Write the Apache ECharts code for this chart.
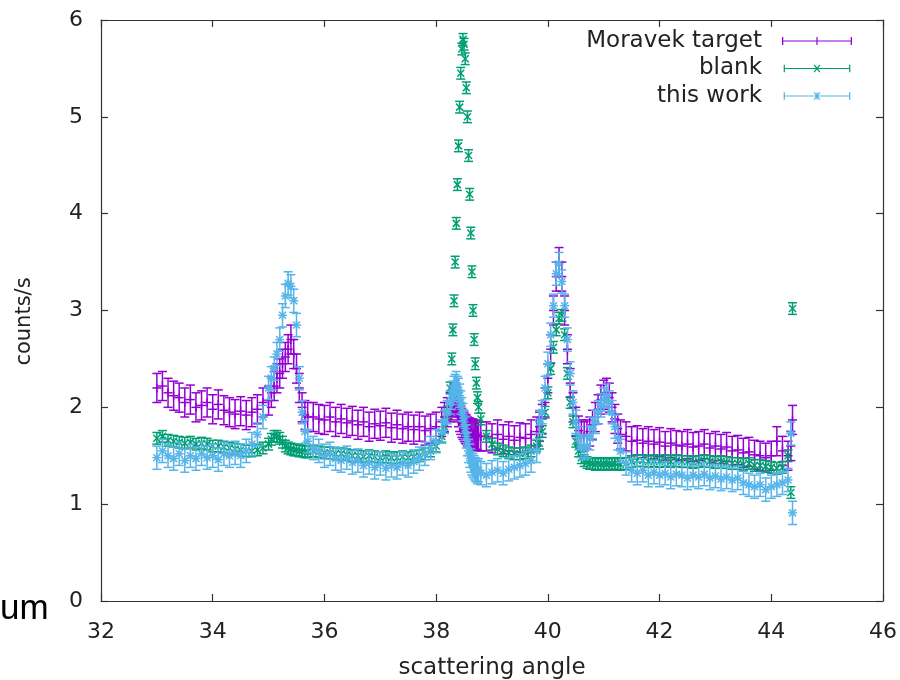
<!DOCTYPE html>
<html>
<head>
<meta charset="utf-8">
<script src="https://cdn.jsdelivr.net/npm/echarts@6/dist/echarts.min.js"></script>
<style>
    html, body { margin: 0; padding: 0; background: #fff; }
    #chart { width: 900px; height: 680px; }
</style>
</head>
<body>
<div id="chart"></div>
<script>
// scattering angle of every measured point (shared by the three runs)
var angles = [
    33.0, 33.1, 33.2, 33.3, 33.4, 33.5, 33.6, 33.7, 33.8, 33.9, 34.0, 34.1, 34.2, 34.3, 34.4, 34.5, 34.6, 34.7, 34.8, 34.9,
    35.0, 35.05, 35.1, 35.15, 35.2, 35.25, 35.3, 35.35, 35.4, 35.45, 35.5, 35.55, 35.6, 35.65, 35.7,
    35.8, 35.9, 36.0, 36.1, 36.2, 36.3, 36.4, 36.5, 36.6, 36.7, 36.8, 36.9, 37.0, 37.1, 37.2, 37.3, 37.4, 37.5, 37.6, 37.7, 37.8, 37.9, 38.0, 38.1,
    38.15, 38.2, 38.25,
    38.28, 38.3, 38.32, 38.34, 38.36, 38.38, 38.4, 38.42, 38.44, 38.46, 38.48, 38.5, 38.52, 38.54, 38.56, 38.58, 38.6, 38.62, 38.64, 38.66, 38.68, 38.7, 38.72, 38.74, 38.76,
    38.8,
    38.9, 39.0, 39.1, 39.2, 39.3, 39.4, 39.5, 39.6, 39.7, 39.8,
    39.85, 39.9, 39.95, 40.0, 40.05, 40.1, 40.15, 40.2, 40.25, 40.3, 40.35, 40.4, 40.45, 40.5, 40.55, 40.6, 40.65, 40.7, 40.75, 40.8, 40.85, 40.9, 40.95, 41.0, 41.05, 41.1, 41.15, 41.2, 41.25, 41.3,
    41.4, 41.5, 41.6, 41.7, 41.8, 41.9, 42.0, 42.1, 42.2, 42.3, 42.4, 42.5, 42.6, 42.7, 42.8, 42.9, 43.0, 43.1, 43.2, 43.3, 43.4, 43.5, 43.6, 43.7, 43.8, 43.9, 44.0, 44.1, 44.2, 44.3,
    44.35, 44.38
];

var moravek = [
    2.2, 2.22, 2.15, 2.12, 2.1, 2.05, 2.08, 2.0, 2.02, 2.05, 1.98, 2.03, 1.97, 1.95, 1.93, 1.96, 1.92, 1.95, 1.98, 2.05,
    2.07, 2.15, 2.22, 2.3, 2.35, 2.45, 2.52, 2.6, 2.7, 2.55, 2.4, 2.2, 2.0, 1.92, 1.9,
    1.9, 1.88, 1.87, 1.9, 1.85, 1.88, 1.84, 1.86, 1.82, 1.85, 1.8, 1.83, 1.81, 1.84, 1.79, 1.82, 1.78, 1.8, 1.77, 1.8, 1.76, 1.78, 1.8, 1.85,
    1.9, 1.95, 2.0,
    2.02, 2.06, 2.08, 2.1, 2.05, 2.0, 1.95, 1.9, 1.87, 1.84, 1.82, 1.8, 1.78, 1.77, 1.75, 1.74, 1.74, 1.73, 1.72, 1.73, 1.71, 1.72, 1.7, 1.71, 1.7,
    1.7,
    1.7, 1.68, 1.72, 1.67, 1.7, 1.66, 1.69, 1.68, 1.72, 1.75,
    1.8, 1.88, 2.05, 2.3, 2.6, 3.0, 3.35, 3.5, 3.35, 3.0, 2.6, 2.25, 2.0, 1.85, 1.76, 1.72, 1.7, 1.72, 1.75, 1.82, 1.9, 1.98, 2.08, 2.13, 2.15, 2.1, 2.0, 1.88, 1.78, 1.72,
    1.7, 1.65, 1.66, 1.63, 1.65, 1.62, 1.64, 1.6, 1.63, 1.61, 1.6, 1.62, 1.59, 1.6, 1.62, 1.58, 1.6, 1.57, 1.59, 1.55, 1.56, 1.53, 1.54, 1.51, 1.5, 1.48, 1.5, 1.65, 1.55, 1.5,
    1.6, 1.87
];

var blank = [
    1.68, 1.7, 1.66, 1.65, 1.64, 1.63, 1.64, 1.62, 1.63, 1.62, 1.6, 1.6, 1.59, 1.58, 1.57, 1.56, 1.55, 1.55, 1.56, 1.58,
    1.62, 1.67, 1.7, 1.7, 1.68, 1.64, 1.6, 1.58, 1.57, 1.56, 1.56, 1.55, 1.55, 1.54, 1.54,
    1.55, 1.54, 1.53, 1.53, 1.52, 1.52, 1.51, 1.5, 1.5, 1.49, 1.5, 1.49, 1.48, 1.49, 1.48, 1.48, 1.49, 1.48, 1.49, 1.5, 1.52, 1.55, 1.6, 1.7,
    1.8, 1.95, 2.2,
    2.5, 2.8, 3.1, 3.5, 3.9, 4.3, 4.7, 5.1, 5.45, 5.7, 5.8, 5.75, 5.6, 5.3, 5.0, 4.6, 4.2, 3.8, 3.4, 3.0, 2.7, 2.45, 2.25, 2.1, 2.0,
    1.88,
    1.7, 1.62, 1.57, 1.55, 1.53, 1.52, 1.52, 1.53, 1.55, 1.6,
    1.63, 1.75, 1.95, 2.15, 2.4, 2.62, 2.8, 2.92, 2.95, 2.75, 2.35, 2.05, 1.85, 1.65, 1.55, 1.48, 1.45, 1.43, 1.42, 1.42, 1.41, 1.42, 1.41, 1.42, 1.41, 1.42, 1.41, 1.42, 1.42, 1.41,
    1.42, 1.44, 1.45, 1.45, 1.44, 1.45, 1.44, 1.45, 1.44, 1.45, 1.44, 1.44, 1.43, 1.44, 1.45, 1.44, 1.43, 1.44, 1.43, 1.42, 1.42, 1.41, 1.42, 1.4, 1.4, 1.39, 1.38, 1.37, 1.38, 1.5,
    1.12, 3.02
];

var thisWork = [
    1.48, 1.55, 1.5, 1.47, 1.52, 1.45, 1.5, 1.47, 1.52, 1.48, 1.5, 1.46, 1.52, 1.5, 1.53, 1.5, 1.55, 1.62, 1.72, 1.9,
    2.2, 2.3, 2.4, 2.55, 2.7, 2.95, 3.15, 3.28, 3.25, 3.1, 2.85, 2.3, 1.95, 1.75, 1.65,
    1.58, 1.55, 1.5, 1.52, 1.47, 1.45, 1.48, 1.43, 1.45, 1.4, 1.43, 1.38, 1.42, 1.37, 1.4, 1.38, 1.42, 1.4, 1.44, 1.47, 1.52, 1.58, 1.65, 1.75,
    1.85, 1.95, 2.05,
    2.1, 2.15, 2.2, 2.22, 2.25, 2.2, 2.18, 2.12, 2.05, 1.98, 1.92, 1.85, 1.78, 1.7, 1.62, 1.55, 1.5, 1.45, 1.42, 1.4, 1.38, 1.36, 1.35, 1.33, 1.35,
    1.32,
    1.3, 1.33, 1.35, 1.32, 1.36, 1.38, 1.4, 1.42, 1.45, 1.55,
    1.85, 1.95, 2.2, 2.45, 2.75, 3.05, 3.38, 3.48, 3.3, 3.05, 2.7, 2.35, 2.05, 1.85, 1.68, 1.6, 1.58, 1.6, 1.68, 1.78, 1.85, 1.95, 2.02, 2.08, 2.12, 2.05, 1.95, 1.8, 1.68, 1.55,
    1.42, 1.35, 1.32, 1.35, 1.3, 1.33, 1.3, 1.32, 1.28, 1.31, 1.3, 1.27, 1.3, 1.28, 1.31, 1.27, 1.29, 1.26, 1.28, 1.25, 1.27, 1.22, 1.2, 1.18, 1.2, 1.15, 1.18, 1.2, 1.22, 1.25,
    1.73, 0.91
];

// one-sigma uncertainty of each run (counts/s)
var moravekErr = 0.15;
var blankErr = 0.06;
var thisWorkErr = 0.12;

var names = ["Moravek target", "blank", "this work"];

function withErr(values, err) {
    var out = [];
    for (var i = 0; i < angles.length && i < values.length; i++) {
        out.push([angles[i], values[i], err]);
    }
    return out;
}

function errorBar(marker) {
    return function (params, api) {
        var x = api.value(0);
        var y = api.value(1);
        var e = api.value(2);
        var c = api.coord([x, y]);
        var hi = api.coord([x, y + e])[1];
        var lo = api.coord([x, y - e])[1];
        var st = { stroke: api.visual("color"), lineWidth: 1.5, fill: null };
        var cw = 4.5;
        var kids = [
            { type: "line", shape: { x1: c[0], y1: hi, x2: c[0], y2: lo }, style: st },
            { type: "line", shape: { x1: c[0] - cw, y1: hi, x2: c[0] + cw, y2: hi }, style: st },
            { type: "line", shape: { x1: c[0] - cw, y1: lo, x2: c[0] + cw, y2: lo }, style: st }
        ];
        if (marker == "plus" || marker == "star") {
            kids.push({ type: "line", shape: { x1: c[0] - 4.5, y1: c[1], x2: c[0] + 4.5, y2: c[1] }, style: st });
            kids.push({ type: "line", shape: { x1: c[0], y1: c[1] - 4.5, x2: c[0], y2: c[1] + 4.5 }, style: st });
        }
        if (marker == "cross" || marker == "star") {
            kids.push({ type: "line", shape: { x1: c[0] - 3.5, y1: c[1] - 3.5, x2: c[0] + 3.5, y2: c[1] + 3.5 }, style: st });
            kids.push({ type: "line", shape: { x1: c[0] - 3.5, y1: c[1] + 3.5, x2: c[0] + 3.5, y2: c[1] - 3.5 }, style: st });
        }
        return { type: "group", children: kids };
    };
}

// legend samples: horizontal error bar with caps and the point marker
var iconBase = "M0 3.4H70V4.6H0Z M0 0H1.3V8H0Z M68.7 0H70V8H68.7Z ";
var iconPlus = "M34.4 0H35.6V8H34.4Z";
var iconCross = "M31.5 0.5L32.5 -0.2L38.5 7.5L37.5 8.2Z M37.5 -0.2L38.5 0.5L32.5 8.2L31.5 7.5Z";
var icons = [
    "path://" + iconBase + iconPlus,
    "path://" + iconBase + iconCross,
    "path://" + iconBase + iconPlus + " " + iconCross
];

var font = "DejaVu Sans";
var ink = "#222";

function axisCommon(extra) {
    var a = {
        type: "value",
        axisLine: { show: true, onZero: false, lineStyle: { color: "#333", width: 1.2 } },
        axisTick: { show: true, inside: true, length: 7, lineStyle: { color: "#333", width: 1.2 } },
        splitLine: { show: false },
        axisLabel: { fontFamily: font, fontSize: 22, color: ink }
    };
    for (var k in extra) a[k] = extra[k];
    return a;
}

var chart = echarts.init(document.getElementById("chart"));
var option = {
    animation: false,
    backgroundColor: "#fff",
    color: ["#9400d3", "#009e73", "#56b4e9"],
    grid: { left: 101, right: 17, top: 20, bottom: 79, containLabel: false, outerBoundsMode: "none" },
    xAxis: [
        axisCommon({
            min: 32, max: 46, interval: 2, position: "bottom",
            name: "scattering angle", nameLocation: "middle", nameGap: 56,
            nameTextStyle: { fontFamily: font, fontSize: 23, color: ink },
            axisLabel: { fontFamily: font, fontSize: 22, color: ink, margin: 20 }
        }),
        axisCommon({ min: 32, max: 46, interval: 2, position: "top", axisLabel: { show: false } })
    ],
    yAxis: [
        axisCommon({
            min: 0, max: 6, interval: 1, position: "left",
            name: "counts/s", nameLocation: "middle", nameGap: 66,
            nameTextStyle: { fontFamily: font, fontSize: 21, color: ink, padding: [0, 22, 0, 0] },
            axisLabel: { fontFamily: font, fontSize: 22, color: ink, margin: 18 }
        }),
        axisCommon({ min: 0, max: 6, interval: 1, position: "right", axisLabel: { show: false } })
    ],
    legend: {
        orient: "vertical",
        right: 48,
        top: 29,
        align: "right",
        padding: 0,
        itemWidth: 70,
        itemHeight: 8,
        itemGap: 3.5,
        selectedMode: false,
        textStyle: { fontFamily: font, fontSize: 23, color: ink, lineHeight: 24, padding: [0, 15, 0, 0] },
        data: [
            { name: names[0], icon: icons[0] },
            { name: names[1], icon: icons[1] },
            { name: names[2], icon: icons[2] }
        ]
    },
    graphic: [{
        type: "text",
        left: 0,
        top: 592,
        style: { text: "um", fontFamily: "Liberation Sans", fontSize: 35, fill: "#000" }
    }],
    series: [
        { name: names[0], type: "custom", renderItem: errorBar("plus"), encode: { x: 0, y: 1 }, data: withErr(moravek, moravekErr) },
        { name: names[1], type: "custom", renderItem: errorBar("cross"), encode: { x: 0, y: 1 }, data: withErr(blank, blankErr) },
        { name: names[2], type: "custom", renderItem: errorBar("star"), encode: { x: 0, y: 1 }, data: withErr(thisWork, thisWorkErr) }
    ]
};
chart.setOption(option);
</script>
</body>
</html>
